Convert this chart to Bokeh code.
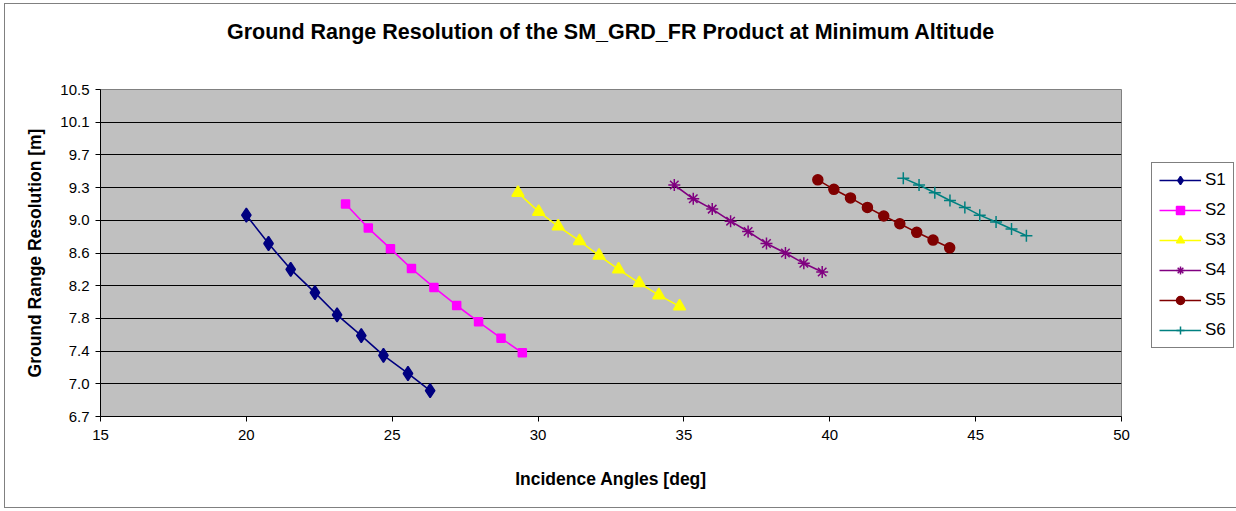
import numpy as np
from bokeh.plotting import figure
from bokeh.models import (FixedTicker, CustomJSTickFormatter, Legend, LegendItem, Range1d, Title)
from bokeh.embed import file_html
from bokeh.resources import INLINE

# Incidence angle [deg] and ground range resolution [m] per swath
s1_angle = [20.0, 20.76, 21.52, 22.35, 23.11, 23.94, 24.70, 25.54, 26.30]
s1_res = [9.04, 8.71, 8.41, 8.14, 7.88, 7.64, 7.41, 7.20, 7.00]

s2_angle = [23.40, 24.18, 24.94, 25.66, 26.43, 27.21, 27.96, 28.73, 29.46]
s2_res = [9.17, 8.89, 8.65, 8.42, 8.20, 7.99, 7.80, 7.61, 7.44]

s3_angle = [29.31, 30.02, 30.69, 31.42, 32.09, 32.76, 33.47, 34.14, 34.85]
s3_res = [9.30, 9.08, 8.91, 8.74, 8.57, 8.41, 8.25, 8.11, 7.98]

s4_angle = [34.67, 35.32, 35.97, 36.60, 37.20, 37.83, 38.48, 39.11, 39.74]
s4_res = [9.39, 9.23, 9.11, 8.97, 8.85, 8.71, 8.60, 8.48, 8.38]

s5_angle = [39.59, 40.14, 40.71, 41.29, 41.85, 42.40, 42.98, 43.54, 44.11]
s5_res = [9.45, 9.34, 9.24, 9.13, 9.03, 8.94, 8.84, 8.75, 8.66]

s6_angle = [42.52, 43.06, 43.60, 44.12, 44.63, 45.14, 45.70, 46.23, 46.74]
s6_res = [9.47, 9.39, 9.30, 9.21, 9.13, 9.04, 8.96, 8.88, 8.80]

series_names = ["S1", "S2", "S3", "S4", "S5", "S6"]
x_ticks = [15, 20, 25, 30, 35, 40, 45, 50]
y_tick_labels = ["6.7", "7.0", "7.4", "7.8", "8.2", "8.6", "9.0", "9.3", "9.7", "10.1", "10.5"]
y_min, y_max = 6.7, 10.5
chart_title = "Ground Range Resolution of the SM_GRD_FR Product at Minimum Altitude"

FONT = "Liberation Sans"

p = figure(
    frame_width=1021, frame_height=327,
    min_border_left=95, min_border_right=109,
    min_border_top=85, min_border_bottom=91,
    x_range=Range1d(15, 50), y_range=Range1d(y_min, y_max),
    output_backend="svg", toolbar_location=None,
    styles={"border": "1px solid #808080", "margin-left": "4px", "margin-top": "3px"},
)

p.background_fill_color = "#C0C0C0"
p.border_fill_color = "white"
p.outline_line_color = "#808080"
p.outline_line_width = 1

# blank gap between the heading and the plot area, then the heading itself
p.add_layout(Title(text=" ", text_font_size="10px", standoff=28), "above")
p.add_layout(Title(text=chart_title, align="center", text_font=FONT,
                   text_font_size="21.5px", text_font_style="bold",
                   text_color="black", standoff=10), "above")

# axes
p.xaxis.ticker = FixedTicker(ticks=x_ticks)
y_ticks = list(np.linspace(y_min, y_max, len(y_tick_labels)))
p.yaxis.ticker = FixedTicker(ticks=y_ticks)
p.yaxis.formatter = CustomJSTickFormatter(args=dict(labels=y_tick_labels),
                                          code="return labels[index];")

for ax in (p.xaxis[0], p.yaxis[0]):
    ax.axis_line_color = "black"
    ax.major_tick_line_color = "black"
    ax.major_tick_in = 0
    ax.major_tick_out = 5
    ax.minor_tick_line_color = None
    ax.major_label_text_font = FONT
    ax.major_label_text_font_size = "15px"
    ax.major_label_text_color = "black"
    ax.axis_label_text_font = FONT
    ax.axis_label_text_font_size = "17.5px"
    ax.axis_label_text_font_style = "bold"
    ax.axis_label_text_color = "black"

p.xaxis.axis_label = "Incidence Angles [deg]"
p.xaxis.major_label_standoff = 8
p.xaxis.axis_label_standoff = 26
p.yaxis.axis_label = "Ground Range Resolution [m]"
p.yaxis.major_label_standoff = 6
p.yaxis.axis_label_standoff = 12

p.xgrid.grid_line_color = None
p.ygrid.grid_line_color = "black"
p.ygrid.grid_line_width = 1

# series
styles = [
    (s1_angle, s1_res, "#000080", "diamond", 14),
    (s2_angle, s2_res, "#FF00FF", "square", 8),
    (s3_angle, s3_res, "#FFFF00", "triangle", 12),
    (s4_angle, s4_res, "#800080", "asterisk", 12),
    (s5_angle, s5_res, "#800000", "circle", 10),
    (s6_angle, s6_res, "#008080", "cross", 12),
]

items = []
for name, (xs, ys, color, marker, size) in zip(series_names, styles):
    ln = p.line(xs, ys, line_color=color, line_width=1.6)
    mk = p.scatter(xs, ys, marker=marker, size=size,
                   fill_color=color, line_color=color, line_width=1.5)
    items.append(LegendItem(label=name, renderers=[ln, mk]))

legend = Legend(items=items, location=(30, 68))
legend.border_line_color = "black"
legend.border_line_width = 1
legend.background_fill_color = "white"
legend.label_text_font = FONT
legend.label_text_font_size = "17px"
legend.label_text_color = "black"
legend.glyph_width = 42
legend.glyph_height = 20
legend.label_height = 20
legend.spacing = 10
legend.padding = 7
legend.margin = 0
legend.label_standoff = 4
p.add_layout(legend, "right")

open("out.html", "w").write(file_html(p, INLINE))
